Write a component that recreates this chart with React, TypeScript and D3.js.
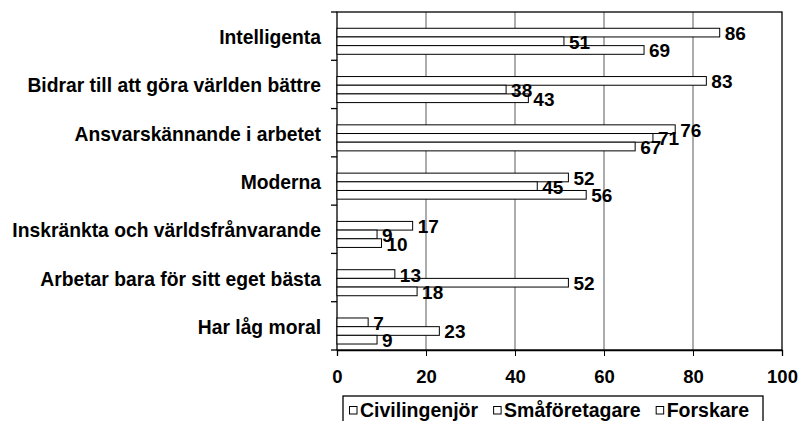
import React, { useEffect, useRef } from "react";
import * as d3 from "d3";

// categories top to bottom
const categories = [
  "Intelligenta",
  "Bidrar till att göra världen bättre",
  "Ansvarskännande i arbetet",
  "Moderna",
  "Inskränkta och världsfrånvarande",
  "Arbetar bara för sitt eget bästa",
  "Har låg moral",
];
const seriesNames = ["Civilingenjör", "Småföretagare", "Forskare"];
const civilingenjor = [86, 83, 76, 52, 17, 13, 7];
const smaforetagare = [51, 38, 71, 45, 9, 52, 23];
const forskare = [69, 43, 67, 56, 10, 18, 9];
const xTicks = [0, 20, 40, 60, 80, 100];

const FONT = "'Liberation Sans', Arial, sans-serif";

const App = () => {
  const ref = useRef<SVGSVGElement>(null);

  useEffect(() => {
    const svg = d3.select(ref.current);
    svg.selectAll("*").remove();

    const left = 337;
    const right = 782;
    const top = 12;
    const bottom = 350;

    const x = d3.scaleLinear().domain([0, 100]).range([left, right]);
    const y = d3.scaleBand().domain(categories).range([top, bottom]).padding(0);
    const bw = y.bandwidth();
    const inner = d3
      .scaleBand()
      .domain(seriesNames)
      .range([bw * 0.337, bw * 0.876])
      .padding(0);

    const values = [civilingenjor, smaforetagare, forskare];

    // grid lines
    svg
      .append("g")
      .selectAll("line")
      .data(xTicks.filter((t) => t > 0 && t < 100))
      .join("line")
      .attr("x1", (d) => x(d))
      .attr("x2", (d) => x(d))
      .attr("y1", top)
      .attr("y2", bottom)
      .attr("stroke", "#808080")
      .attr("stroke-width", 1.3);

    // plot border
    svg
      .append("rect")
      .attr("x", left)
      .attr("y", top)
      .attr("width", right - left)
      .attr("height", bottom - top)
      .attr("fill", "none")
      .attr("stroke", "#000")
      .attr("stroke-width", 1.3);

    // bottom axis
    const xAxis = d3
      .axisBottom(x)
      .tickValues(xTicks)
      .tickSize(6)
      .tickPadding(14)
      .tickFormat(d3.format("d"));
    const gx = svg.append("g").attr("transform", `translate(0,${bottom})`).call(xAxis);
    gx.select(".domain").attr("stroke", "#000").attr("stroke-width", 1.3);
    gx.selectAll(".tick line").attr("stroke", "#000");
    gx.selectAll(".tick text")
      .attr("font-family", FONT)
      .attr("font-weight", "bold")
      .attr("font-size", 18.5)
      .attr("fill", "#000");

    // left axis ticks at category boundaries
    const bounds = categories.map((c) => y(c) as number).concat([bottom]);
    svg
      .append("g")
      .selectAll("line")
      .data(bounds)
      .join("line")
      .attr("x1", left - 6)
      .attr("x2", left)
      .attr("y1", (d) => d)
      .attr("y2", (d) => d)
      .attr("stroke", "#000")
      .attr("stroke-width", 1.3);

    // category labels
    svg
      .append("g")
      .selectAll("text")
      .data(categories)
      .join("text")
      .attr("x", 321)
      .attr("y", (d) => (y(d) as number) + bw / 2 + 1.5)
      .attr("text-anchor", "end")
      .attr("dominant-baseline", "central")
      .attr("font-family", FONT)
      .attr("font-weight", "bold")
      .attr("font-size", 19.3)
      .text((d) => d);

    // bars first, then the value labels on top
    seriesNames.forEach((s, si) => {
      svg
        .append("g")
        .selectAll("rect")
        .data(values[si])
        .join("rect")
        .attr("x", left)
        .attr("y", (d, i) => (y(categories[i]) as number) + (inner(s) as number))
        .attr("width", (d) => x(d) - left)
        .attr("height", inner.bandwidth())
        .attr("fill", "#fff")
        .attr("stroke", "#000")
        .attr("stroke-width", 1);
    });
    seriesNames.forEach((s, si) => {
      svg
        .append("g")
        .selectAll("text")
        .data(values[si])
        .join("text")
        .attr("x", (d) => x(d) + 5)
        .attr("y", (d, i) => (y(categories[i]) as number) + (inner(s) as number) + inner.bandwidth() / 2 + 1)
        .attr("dominant-baseline", "central")
        .attr("font-family", FONT)
        .attr("font-weight", "bold")
        .attr("font-size", 19)
        .text((d) => d);
    });

    // legend
    const legend = svg.append("g");
    legend
      .append("rect")
      .attr("x", 343)
      .attr("y", 396)
      .attr("width", 420)
      .attr("height", 40)
      .attr("fill", "#fff")
      .attr("stroke", "#000")
      .attr("stroke-width", 1.3);
    let lx = 349;
    seriesNames.forEach((s) => {
      legend
        .append("rect")
        .attr("x", lx + 0.5)
        .attr("y", 406.5)
        .attr("width", 7.5)
        .attr("height", 7.5)
        .attr("fill", "#fff")
        .attr("stroke", "#000")
        .attr("stroke-width", 1);
      const t = legend
        .append("text")
        .attr("x", lx + 11)
        .attr("y", 416.5)
        .attr("font-family", FONT)
        .attr("font-weight", "bold")
        .attr("font-size", 19.5)
        .text(s);
      const w = (t.node() as SVGTextElement).getComputedTextLength();
      lx = lx + 11 + w + 15;
    });
  }, []);

  return (
    <div style={{ position: "absolute", left: 0, top: 0 }}>
      <svg ref={ref} width={802} height={421} style={{ display: "block", background: "#fff" }} />
    </div>
  );
};

export default App;
